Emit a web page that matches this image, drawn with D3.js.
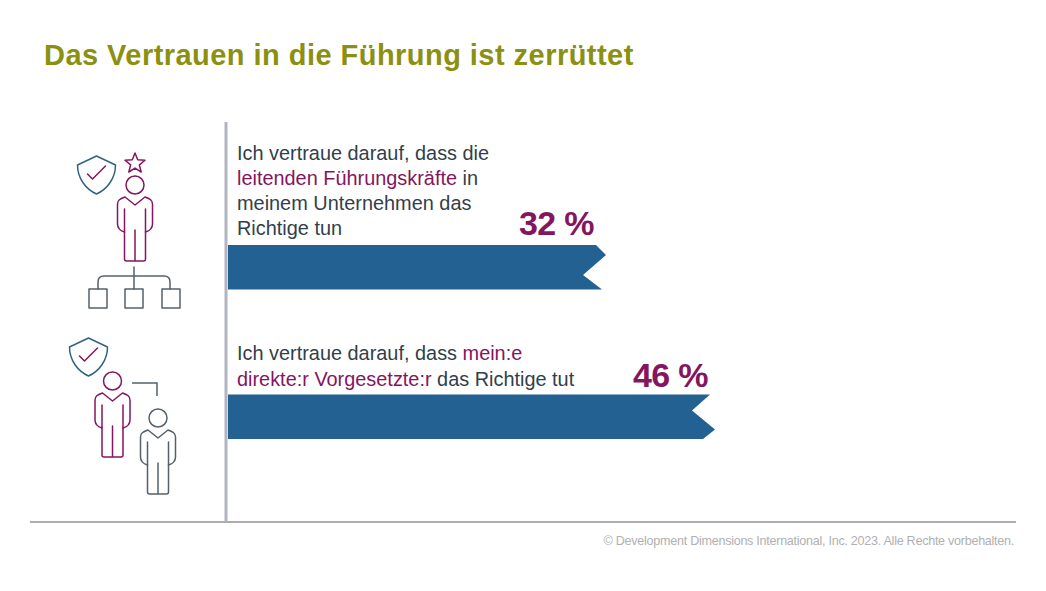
<!DOCTYPE html>
<html lang="de">
<head>
<meta charset="utf-8">
<title>Das Vertrauen in die Führung ist zerrüttet</title>
<script src="https://cdn.jsdelivr.net/npm/d3@7"></script>
<style>
    html, body { margin: 0; padding: 0; background: #fff; }
    svg { display: block; }
    text { font-family: "Liberation Sans", Arial, sans-serif; }
</style>
</head>
<body>
<div id="chart"></div>
<script>
// data
const chartTitle = "Das Vertrauen in die Führung ist zerrüttet";
const categories = ["Leitende Führungskräfte", "Direkte Vorgesetzte"];
const values = [32, 46];
const valueLabels = ["32 %", "46 %"];
// [text, highlighted]
const statements = [
    [
        [["Ich vertraue darauf, dass die", false]],
        [["leitenden Führungskräfte", true], [" in", false]],
        [["meinem Unternehmen das", false]],
        [["Richtige tun", false]]
    ],
    [
        [["Ich vertraue darauf, dass ", false], ["mein:e", true]],
        [["direkte:r Vorgesetzte:r", true], [" das Richtige tut", false]]
    ]
];
const footerText = "© Development Dimensions International, Inc. 2023. Alle Rechte vorbehalten.";

const colors = {
    title: "#8b9010",
    text: "#323f4b",
    accent: "#85155f",
    bar: "#236192",
    axis: "#b1b5c0",
    rule: "#adadad",
    footer: "#b0b0b0",
    teal: "#2f6480",
    slate: "#55606b"
};

const width = 1046, height = 591;

const svg = d3.select("#chart").append("svg")
    .attr("width", width)
    .attr("height", height);

// title
svg.append("text")
    .attr("x", 44).attr("y", 65)
    .attr("font-size", 29)
    .attr("font-weight", "bold")
    .attr("letter-spacing", 0.46)
    .attr("fill", colors.title)
    .text(chartTitle);

// scales (bar lengths in the original are not proportional to zero)
const x = d3.scaleLinear().domain([32, 46]).range([602, 710]);
const y = d3.scalePoint().domain(categories).range([245, 394.5]);
const barHeight = 44.5;
const barLeft = 228;

// ribbon ends, relative to the scaled end of each bar
const ribbonEnds = [
    [[-6, 0], [4, 10], [-19, 30], [0, 44.5]],
    [[0, 0], [-18, 16], [5, 35], [-7, 44.5]]
];

const rows = svg.selectAll(".row")
    .data(categories)
    .join("g")
    .attr("class", "row");

rows.append("path")
    .attr("fill", colors.bar)
    .attr("d", (d, i) => {
        let end = x(values[i]);
        let pts = [[barLeft, y(d)]]
            .concat(ribbonEnds[i].map(p => [end + p[0], y(d) + p[1]]))
            .concat([[barLeft, y(d) + barHeight]]);
        return d3.line()(pts) + "Z";
    });

rows.append("text")
    .attr("x", (d, i) => x(values[i]) - (i === 0 ? 8 : 2))
    .attr("y", (d, i) => y(d) - (i === 0 ? 10 : 8))
    .attr("text-anchor", "end")
    .attr("font-size", 34)
    .attr("font-weight", "bold")
    .attr("letter-spacing", -0.6)
    .attr("fill", colors.accent)
    .text((d, i) => valueLabels[i]);

// statements above the bars
const statementBaselines = [[160, 185, 210, 235], [360, 386]];

statements.forEach((lines, i) => {
    lines.forEach((segments, j) => {
        let line = svg.append("text")
            .attr("x", 237)
            .attr("y", statementBaselines[i][j])
            .attr("font-size", 19.9)
            .attr("fill", colors.text)
            .attr("xml:space", "preserve");
        segments.forEach(s => {
            line.append("tspan")
                .attr("fill", s[1] ? colors.accent : colors.text)
                .text(s[0]);
        });
    });
});

// axis line and bottom rule
svg.append("line")
    .attr("x1", 226).attr("x2", 226)
    .attr("y1", 122).attr("y2", 522)
    .attr("stroke", colors.axis)
    .attr("stroke-width", 3);

svg.append("line")
    .attr("x1", 30).attr("x2", 1016)
    .attr("y1", 522).attr("y2", 522)
    .attr("stroke", colors.rule)
    .attr("stroke-width", 2);

svg.append("text")
    .attr("x", 1014).attr("y", 545)
    .attr("text-anchor", "end")
    .attr("font-size", 12.6)
    .attr("letter-spacing", -0.28)
    .attr("fill", colors.footer)
    .text(footerText);

// icons
const icons = svg.append("g")
    .attr("fill", "none")
    .attr("stroke-width", 1.5)
    .attr("stroke-linejoin", "round")
    .attr("stroke-linecap", "round");

function drawPerson(cx, cy, color) {
    let g = icons.append("g")
        .attr("transform", `translate(${cx},${cy})`)
        .attr("stroke", color);
    g.append("circle").attr("r", 9);
    g.append("path").attr("d",
        "M-10.5,47 C-14,46 -17.5,44 -17.5,39 V19 C-17.5,15 -15,14 -10,12 L0,20 L10,12 " +
        "C15,14 17.5,15 17.5,19 V39 C17.5,44 14,46 10.5,47");
    g.append("path").attr("d",
        "M-10.5,24 V74 Q-10.5,76 -8.5,76 H8.5 Q10.5,76 10.5,74 V24 M0,45 V76");
}

function drawShield(cx, top) {
    let g = icons.append("g")
        .attr("transform", `translate(${cx},${top})`);
    g.append("path")
        .attr("stroke", colors.teal)
        .attr("d", "M0,0 L19,9 C19,22 11,33 0,38 C-11,33 -19,22 -19,9 Z");
    g.append("path")
        .attr("stroke", colors.accent)
        .attr("d", "M-9,18 L-4,23 L9,10");
}

drawShield(96.5, 156);
drawShield(88.5, 338);
drawPerson(135, 185, colors.accent);
drawPerson(112.5, 381, colors.accent);
drawPerson(158, 418, colors.slate);

// star above the first person
const starPoints = d3.range(10).map(i => [
    i * Math.PI / 5,
    i % 2 === 0 ? 10.5 : 4.6
]);
icons.append("path")
    .attr("transform", "translate(135,163.5)")
    .attr("stroke", colors.accent)
    .attr("d", d3.lineRadial()(starPoints) + "Z");

// org chart under the first person
icons.append("path")
    .attr("stroke", colors.slate)
    .attr("d", "M134,267 V289 M98,289 V282 Q98,276 104,276 H164 Q170,276 170,282 V289");
[89, 125, 162].forEach(bx => {
    icons.append("rect")
        .attr("x", bx).attr("y", 289)
        .attr("width", 18).attr("height", 19)
        .attr("stroke", colors.slate);
});

// connector between the two people
icons.append("path")
    .attr("stroke", colors.slate)
    .attr("stroke-linecap", "butt")
    .attr("stroke-linejoin", "miter")
    .attr("d", "M132,383 H157 V396");
</script>
</body>
</html>
